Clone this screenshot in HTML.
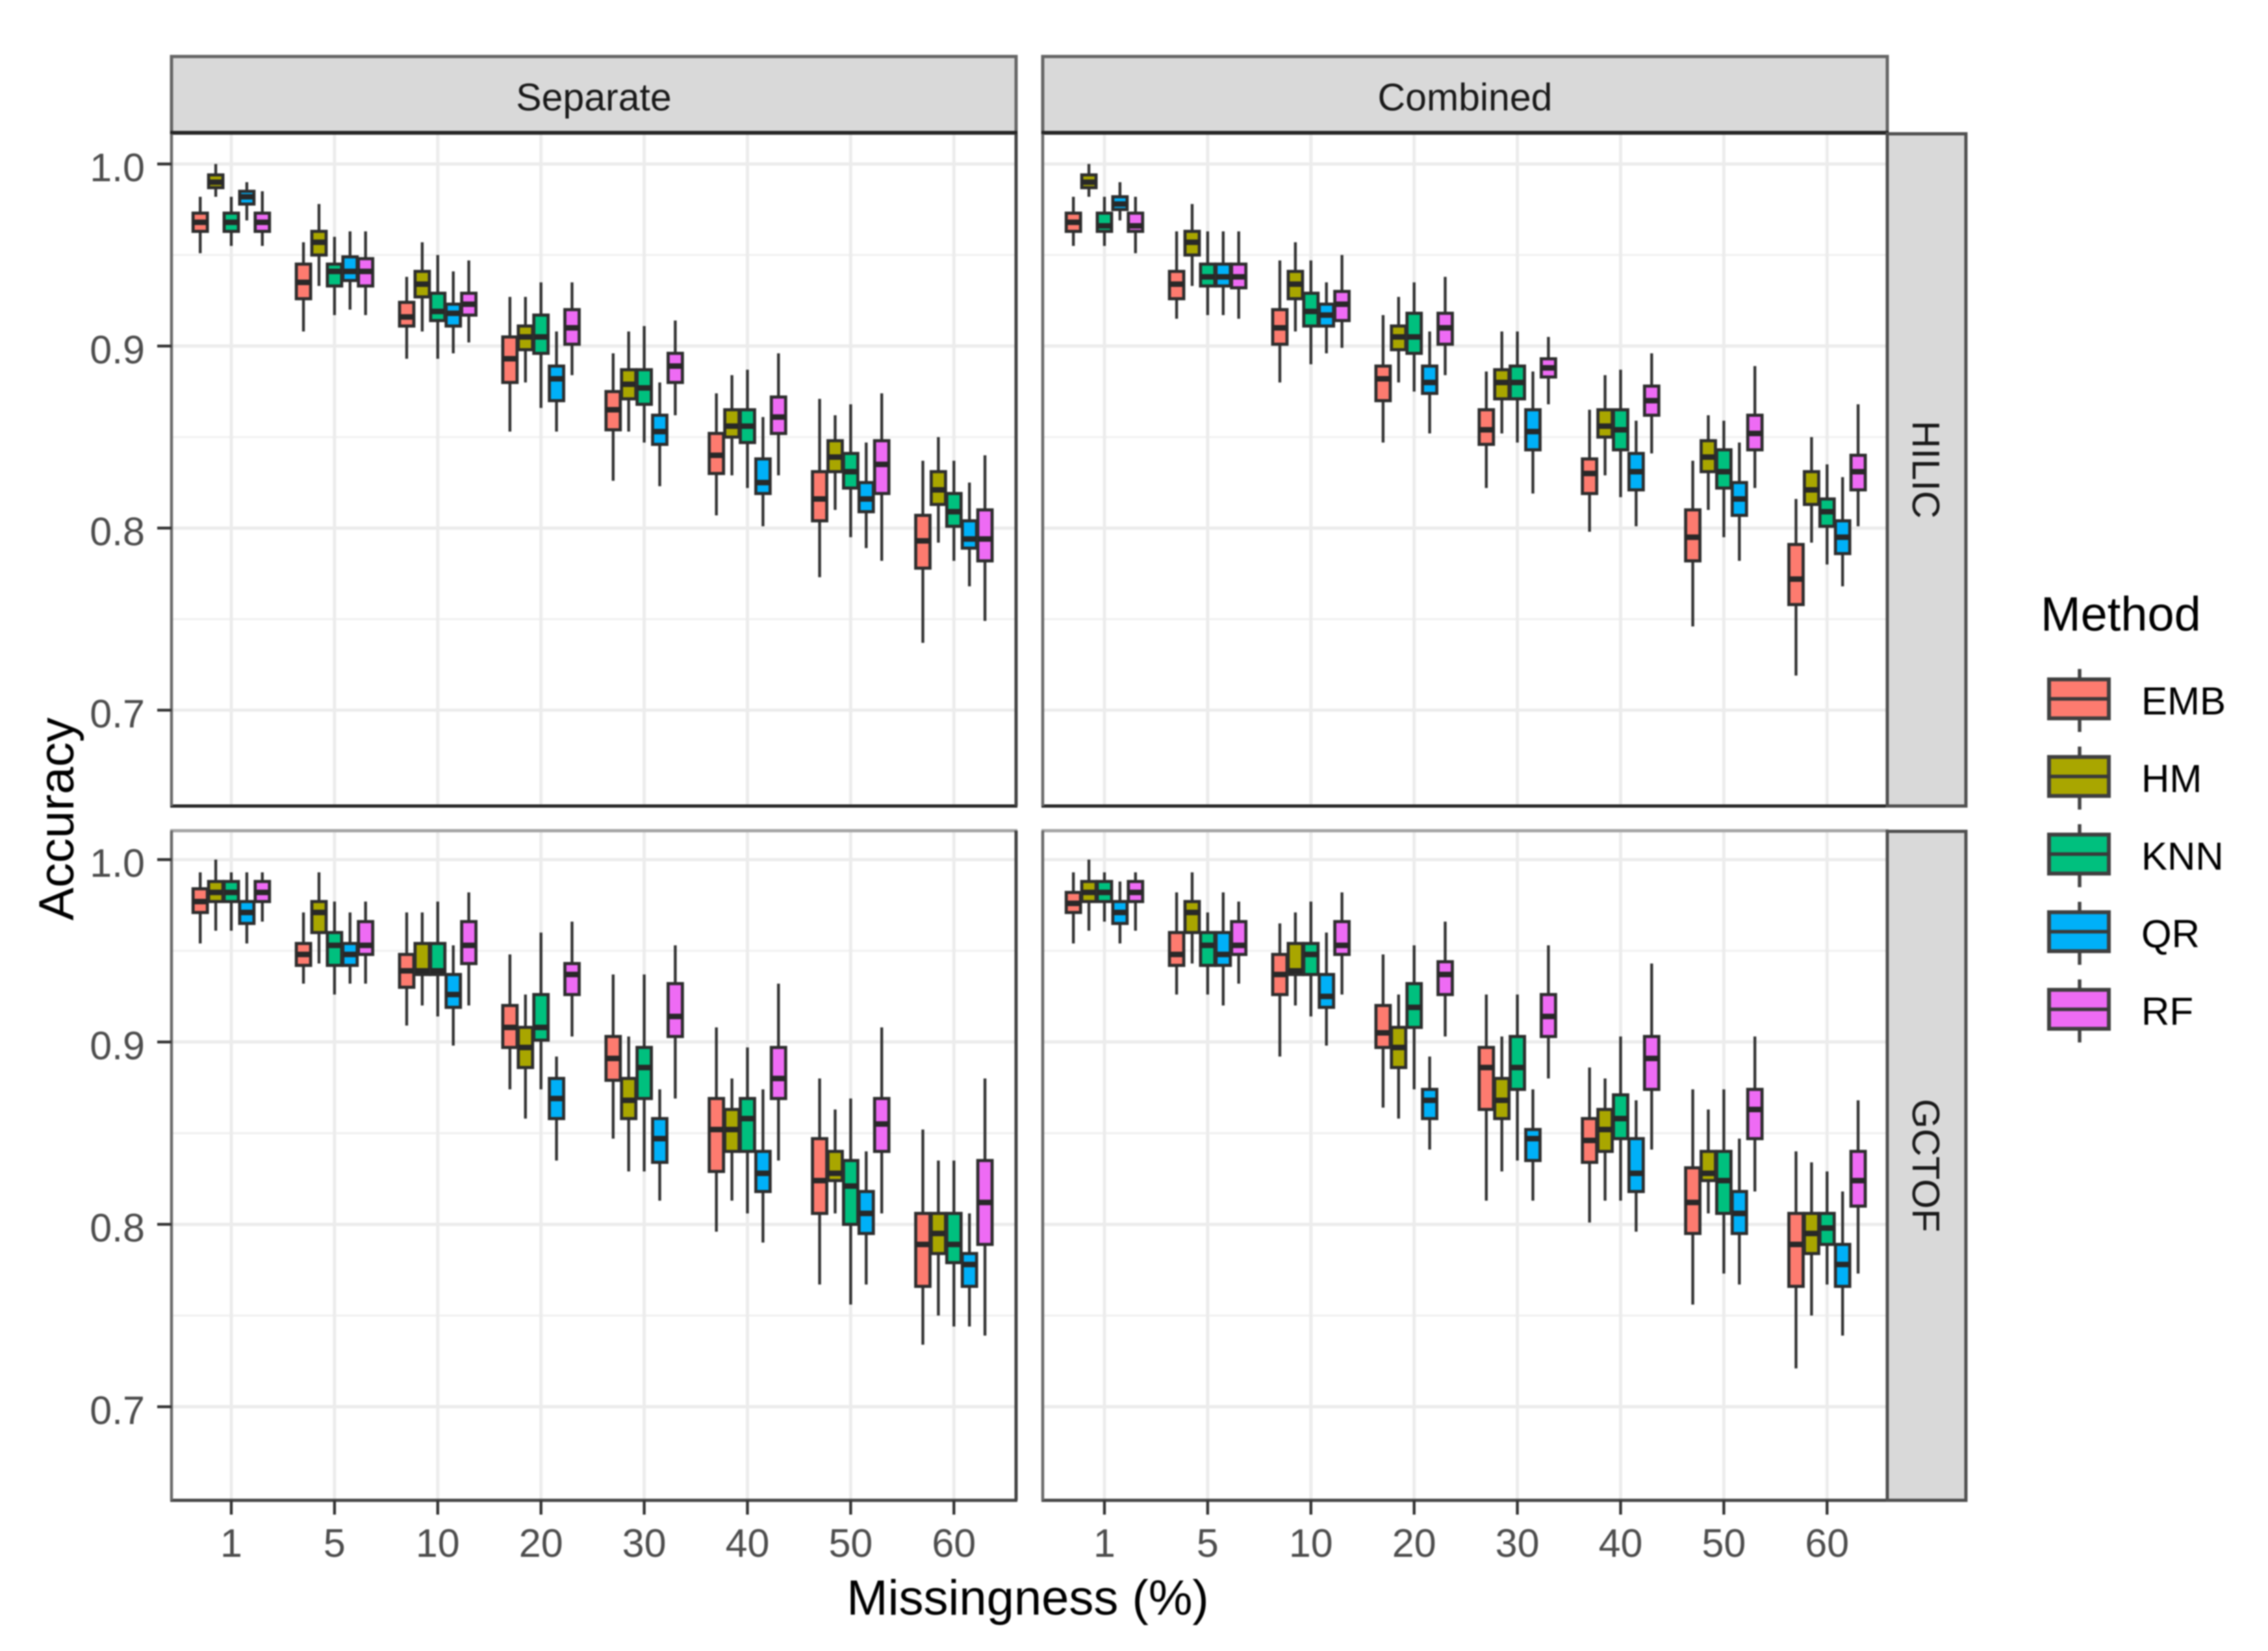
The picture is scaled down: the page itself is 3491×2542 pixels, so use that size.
<!DOCTYPE html>
<html lang="en">
<head>
<meta charset="utf-8">
<title>Accuracy by missingness</title>
<style>
html,body{margin:0;padding:0;background:#fff;}
svg{display:block;filter:blur(1.1px);font-family:"Liberation Sans",sans-serif;}
</style>
</head>
<body>
<svg id="chart" xmlns="http://www.w3.org/2000/svg" width="3491" height="2542" viewBox="0 0 3491 2542">
<rect x="0" y="0" width="3491" height="2542" fill="#ffffff"/>
</svg>
<script>
// Categories and ticks
const categories = ["1","5","10","20","30","40","50","60"];
const methods = ["EMB","HM","KNN","QR","RF"];
const methodColors = ["#FD7B6F","#A9A600","#00C07E","#00B0F8","#EE6BF4"];
const yMajorTicks = [1.0,0.9,0.8,0.7];
const yMinorTicks = [0.95,0.85,0.75];
const yTickLabels = ["1.0","0.9","0.8","0.7"];

// Each row: [low whisker, q1, median, q3, high whisker], one row per missingness category
const sepHilicEMB = [[.951,.963,.968,.973,.982],[.908,.926,.935,.945,.957],[.893,.911,.916,.924,.938],[.853,.880,.893,.905,.927],[.826,.854,.865,.875,.896],[.807,.830,.840,.852,.874],[.773,.804,.816,.831,.871],[.737,.778,.793,.807,.837]];
const sepHilicHM = [[.982,.987,.990,.994,1.0],[.933,.950,.957,.963,.978],[.908,.927,.934,.941,.957],[.880,.898,.905,.911,.927],[.853,.871,.879,.887,.908],[.829,.850,.856,.865,.884],[.810,.831,.839,.848,.862],[.792,.813,.821,.831,.850]];
const sepHilicKNN = [[.955,.963,.968,.973,.982],[.917,.933,.941,.945,.960],[.893,.914,.919,.929,.950],[.866,.896,.905,.917,.935],[.847,.868,.877,.887,.911],[.822,.847,.856,.865,.887],[.795,.822,.831,.841,.868],[.782,.801,.809,.819,.837]];
const sepHilicQR = [[.969,.978,.982,.985,.990],[.920,.936,.941,.949,.963],[.896,.911,.918,.923,.941],[.853,.870,.882,.889,.908],[.823,.846,.853,.862,.880],[.801,.819,.825,.838,.861],[.789,.809,.816,.825,.847],[.768,.789,.794,.804,.825]];
const sepHilicRF = [[.955,.963,.968,.973,.985],[.917,.933,.941,.948,.963],[.902,.917,.923,.929,.947],[.884,.901,.910,.920,.935],[.862,.880,.889,.896,.914],[.829,.852,.861,.872,.896],[.782,.819,.835,.848,.874],[.749,.782,.794,.810,.840]];

const combHilicEMB = [[.955,.963,.968,.973,.982],[.915,.926,.934,.941,.963],[.880,.901,.910,.920,.947],[.847,.870,.882,.889,.917],[.822,.846,.854,.865,.886],[.798,.819,.830,.838,.865],[.746,.782,.795,.810,.837],[.719,.758,.772,.791,.816]];
const combHilicHM = [[.982,.987,.990,.994,1.0],[.933,.950,.957,.963,.978],[.908,.926,.934,.941,.957],[.880,.898,.905,.911,.927],[.852,.871,.880,.887,.908],[.829,.850,.856,.865,.884],[.810,.831,.839,.848,.862],[.792,.813,.821,.831,.850]];
const combHilicKNN = [[.955,.963,.966,.973,.982],[.917,.933,.938,.945,.963],[.890,.911,.919,.929,.947],[.875,.896,.905,.918,.935],[.847,.871,.880,.889,.908],[.817,.843,.854,.865,.887],[.795,.822,.831,.843,.859],[.780,.801,.809,.816,.835]];
const combHilicQR = [[.969,.975,.978,.982,.990],[.917,.933,.938,.945,.963],[.896,.911,.917,.923,.935],[.852,.874,.880,.889,.908],[.819,.843,.853,.865,.886],[.801,.821,.831,.841,.859],[.782,.807,.816,.825,.847],[.768,.786,.795,.804,.828]];
const combHilicRF = [[.951,.963,.966,.973,.982],[.915,.932,.938,.945,.963],[.899,.914,.923,.930,.950],[.884,.901,.910,.918,.938],[.868,.883,.888,.893,.905],[.841,.862,.870,.878,.896],[.822,.843,.852,.862,.889],[.801,.821,.831,.840,.868]];

const sepGctofEMB = [[.954,.971,.977,.984,.993],[.932,.942,.948,.954,.971],[.909,.930,.939,.948,.971],[.874,.897,.908,.920,.948],[.847,.879,.891,.903,.937],[.796,.829,.852,.869,.908],[.767,.806,.824,.847,.880],[.734,.766,.789,.806,.852]];
const sepGctofHM = [[.961,.977,.982,.988,1.0],[.943,.960,.971,.977,.993],[.920,.937,.939,.954,.971],[.858,.886,.897,.908,.926],[.829,.858,.868,.880,.903],[.813,.840,.852,.863,.880],[.806,.824,.828,.840,.863],[.750,.784,.795,.806,.835]];
const sepGctofKNN = [[.961,.977,.982,.988,.993],[.926,.942,.953,.960,.977],[.914,.937,.939,.954,.977],[.874,.901,.908,.926,.960],[.829,.869,.886,.897,.937],[.806,.840,.858,.869,.897],[.756,.800,.821,.835,.869],[.744,.779,.789,.806,.835]];
const sepGctofQR = [[.954,.965,.971,.977,.993],[.932,.942,.948,.954,.971],[.898,.919,.926,.937,.953],[.835,.858,.869,.880,.892],[.813,.834,.847,.858,.874],[.790,.818,.828,.840,.874],[.767,.795,.806,.818,.840],[.744,.766,.778,.784,.806]];
const sepGctofRF = [[.966,.977,.982,.988,.993],[.932,.948,.953,.966,.977],[.920,.943,.953,.966,.982],[.903,.926,.937,.943,.966],[.869,.903,.914,.932,.953],[.835,.869,.880,.897,.932],[.806,.840,.855,.869,.908],[.739,.789,.812,.835,.880]];

const combGctofEMB = [[.954,.971,.976,.982,.993],[.926,.942,.948,.960,.982],[.892,.926,.937,.948,.965],[.864,.897,.905,.920,.948],[.813,.863,.886,.897,.926],[.801,.834,.846,.858,.886],[.756,.795,.812,.831,.874],[.721,.766,.789,.806,.840]];
const combGctofHM = [[.961,.977,.982,.988,1.0],[.943,.960,.971,.977,.993],[.920,.937,.939,.954,.971],[.858,.886,.897,.908,.926],[.829,.858,.868,.880,.903],[.813,.840,.852,.863,.880],[.806,.824,.828,.840,.863],[.750,.784,.795,.806,.834]];
const combGctofKNN = [[.966,.977,.982,.988,.993],[.926,.942,.953,.960,.971],[.914,.937,.948,.954,.977],[.874,.908,.919,.932,.953],[.835,.874,.886,.903,.926],[.813,.847,.858,.871,.903],[.773,.806,.824,.840,.874],[.767,.789,.798,.806,.829]];
const combGctofQR = [[.954,.965,.971,.977,.988],[.920,.942,.948,.960,.982],[.898,.919,.925,.937,.960],[.841,.858,.868,.874,.892],[.813,.835,.847,.852,.874],[.796,.818,.828,.847,.868],[.767,.795,.806,.818,.847],[.739,.766,.778,.789,.818]];
const combGctofRF = [[.961,.977,.982,.988,.993],[.932,.948,.953,.966,.977],[.926,.948,.953,.966,.982],[.903,.926,.937,.944,.966],[.880,.903,.914,.926,.953],[.841,.874,.891,.903,.943],[.818,.847,.863,.874,.903],[.773,.810,.824,.840,.868]];

const svgNS = "http://www.w3.org/2000/svg";
const svg = document.getElementById("chart");

function mk(tag, attrs, parent) {
  const node = document.createElementNS(svgNS, tag);
  for (const k in attrs) node.setAttribute(k, attrs[k]);
  (parent || svg).appendChild(node);
  return node;
}

const facets = [
  {key:"separate-hilic", col:"Separate", row:"HILIC", left:264, right:1564, top:205, bottom:1241, firstX:356, y10:252.5, unit:2803, topEdge:"#333333", bottomEdge:"#262626", series:[sepHilicEMB,sepHilicHM,sepHilicKNN,sepHilicQR,sepHilicRF]},
  {key:"combined-hilic", col:"Combined", row:"HILIC", left:1605, right:2905, top:205, bottom:1241, firstX:1700, y10:252.5, unit:2803, topEdge:"#333333", bottomEdge:"#262626", series:[combHilicEMB,combHilicHM,combHilicKNN,combHilicQR,combHilicRF]},
  {key:"separate-gctof", col:"Separate", row:"GCTOF", left:264, right:1564, top:1279, bottom:2310, firstX:356, y10:1323.5, unit:2808, topEdge:"#a5a5a5", bottomEdge:"#484848", series:[sepGctofEMB,sepGctofHM,sepGctofKNN,sepGctofQR,sepGctofRF]},
  {key:"combined-gctof", col:"Combined", row:"GCTOF", left:1605, right:2905, top:1279, bottom:2310, firstX:1700, y10:1323.5, unit:2808, topEdge:"#a5a5a5", bottomEdge:"#484848", series:[combGctofEMB,combGctofHM,combGctofKNN,combGctofQR,combGctofRF]}
];

const catStep = 158.9;
const dodgeStep = 23.9;
const boxWidth = 22;

function xScale(facet, catIndex) { return facet.firstX + catIndex * catStep; }
function yScale(facet, value) { return facet.y10 + (1 - value) * facet.unit; }

facets.forEach(function (f) {
  const g = mk("g", {});
  
  

  // minor horizontal grid
  yMinorTicks.forEach(function (t) {
    const el = mk("line", {x1:f.left, x2:f.right, y1:yScale(f,t), y2:yScale(f,t), stroke:"#f0f0f0", "stroke-width":3}, g);
    
    
  });
  // major horizontal grid
  yMajorTicks.forEach(function (t) {
    const el = mk("line", {x1:f.left, x2:f.right, y1:yScale(f,t), y2:yScale(f,t), stroke:"#ececec", "stroke-width":5}, g);
    
    
  });
  // vertical grid
  categories.forEach(function (c, i) {
    const el = mk("line", {x1:xScale(f,i), x2:xScale(f,i), y1:f.top, y2:f.bottom, stroke:"#ececec", "stroke-width":5}, g);
    
    
  });

  // boxes
  categories.forEach(function (c, i) {
    methods.forEach(function (m, j) {
      const s = f.series[j][i];
      const cx = xScale(f, i) + (j - 2) * dodgeStep;
      const whisker = mk("line", {x1:cx, x2:cx, y1:yScale(f,s[4]), y2:yScale(f,s[0]), stroke:"#333333", "stroke-width":4.4}, g);
      
      
      const box = mk("rect", {x:cx - boxWidth/2, y:yScale(f,s[3]), width:boxWidth, height:yScale(f,s[1]) - yScale(f,s[3]), fill:methodColors[j], stroke:"#2e2e2e", "stroke-width":4.8}, g);
      
      
      const med = mk("line", {x1:cx - boxWidth/2, x2:cx + boxWidth/2, y1:yScale(f,s[2]), y2:yScale(f,s[2]), stroke:"#282828", "stroke-width":8.5}, g);
      
      
    });
  });

  // panel borders
  const eTop = mk("line", {x1:f.left-2, x2:f.right+2, y1:f.top, y2:f.top, stroke:f.topEdge, "stroke-width":5}, g);
  
  
  const eBottom = mk("line", {x1:f.left-2, x2:f.right+2, y1:f.bottom, y2:f.bottom, stroke:f.bottomEdge, "stroke-width":5}, g);
  
  
  const eLeft = mk("line", {x1:f.left, x2:f.left, y1:f.top, y2:f.bottom, stroke:"#6a6a6a", "stroke-width":4.5}, g);
  
  
  const eRight = mk("line", {x1:f.right, x2:f.right, y1:f.top, y2:f.bottom, stroke:"#424242", "stroke-width":5}, g);
  
  
});

// y axes (left column only)
[facets[0], facets[2]].forEach(function (f) {
  yMajorTicks.forEach(function (t, i) {
    const tick = mk("line", {x1:242, x2:f.left, y1:yScale(f,t), y2:yScale(f,t), stroke:"#333333", "stroke-width":4.4});
    
    
    const lab = mk("text", {x:223, y:yScale(f,t)+26.5, "text-anchor":"end", "font-size":61, fill:"#4d4d4d"});
    lab.textContent = yTickLabels[i];
    
    
  });
});

// x axes (bottom row only)
[facets[2], facets[3]].forEach(function (f) {
  categories.forEach(function (c, i) {
    const tick = mk("line", {x1:xScale(f,i), x2:xScale(f,i), y1:f.bottom, y2:2332, stroke:"#333333", "stroke-width":4.4});
    
    
    const lab = mk("text", {x:xScale(f,i), y:2397, "text-anchor":"middle", "font-size":61, fill:"#4d4d4d"});
    lab.textContent = c;
    
    
  });
});

// column strips
[facets[0], facets[1]].forEach(function (f) {
  const strip = mk("rect", {x:f.left, y:87, width:f.right-f.left, height:117, fill:"#d9d9d9", stroke:"#666666", "stroke-width":5});
  
  
  const under = mk("line", {x1:f.left-2, x2:f.right+2, y1:204, y2:204, stroke:"#262626", "stroke-width":5});
  
  
  const txt = mk("text", {x:(f.left+f.right)/2, y:170, "text-anchor":"middle", "font-size":59, fill:"#1a1a1a"});
  txt.textContent = f.col;
  
  
});

// row strips
[facets[1], facets[3]].forEach(function (f) {
  const strip = mk("rect", {x:f.right, y:f.top+1, width:121, height:f.bottom-f.top-1, fill:"#d9d9d9", stroke:"#505050", "stroke-width":5});
  
  
  const cy = (f.top + f.bottom) / 2;
  const txt = mk("text", {transform:"translate(2944," + cy + ") rotate(90)", x:0, y:0, "text-anchor":"middle", "font-size":59, fill:"#1a1a1a"});
  txt.textContent = f.row;
  
  
});

// axis titles
const xTitle = mk("text", {x:1582, y:2486, "text-anchor":"middle", "font-size":76, fill:"#000000"});
xTitle.textContent = "Missingness (%)";



const yTitle = mk("text", {transform:"translate(113,1261) rotate(-90)", x:0, y:0, "text-anchor":"middle", "font-size":76, fill:"#000000"});
yTitle.textContent = "Accuracy";



// legend
const legendTitle = mk("text", {x:3141, y:971, "font-size":74, fill:"#000000"});
legendTitle.textContent = "Method";



const legendTop = 1046;
const legendStep = 119.5;
methods.forEach(function (m, j) {
  const top = legendTop + j * legendStep;
  const g = mk("g", {});
  
  
  const wh = mk("line", {x1:3201, x2:3201, y1:top-16, y2:top+81, stroke:"#444444", "stroke-width":5.5}, g);
  
  
  const key = mk("rect", {x:3154, y:top, width:92, height:60, fill:methodColors[j], stroke:"#404040", "stroke-width":6}, g);
  
  
  const med = mk("line", {x1:3154, x2:3246, y1:top+30, y2:top+30, stroke:"#3a3a3a", "stroke-width":5.5}, g);
  
  
  const lab = mk("text", {x:3296, y:top+54, "font-size":60, fill:"#000000"}, g);
  lab.textContent = m;
  
  
});
</script>
</body>
</html>
